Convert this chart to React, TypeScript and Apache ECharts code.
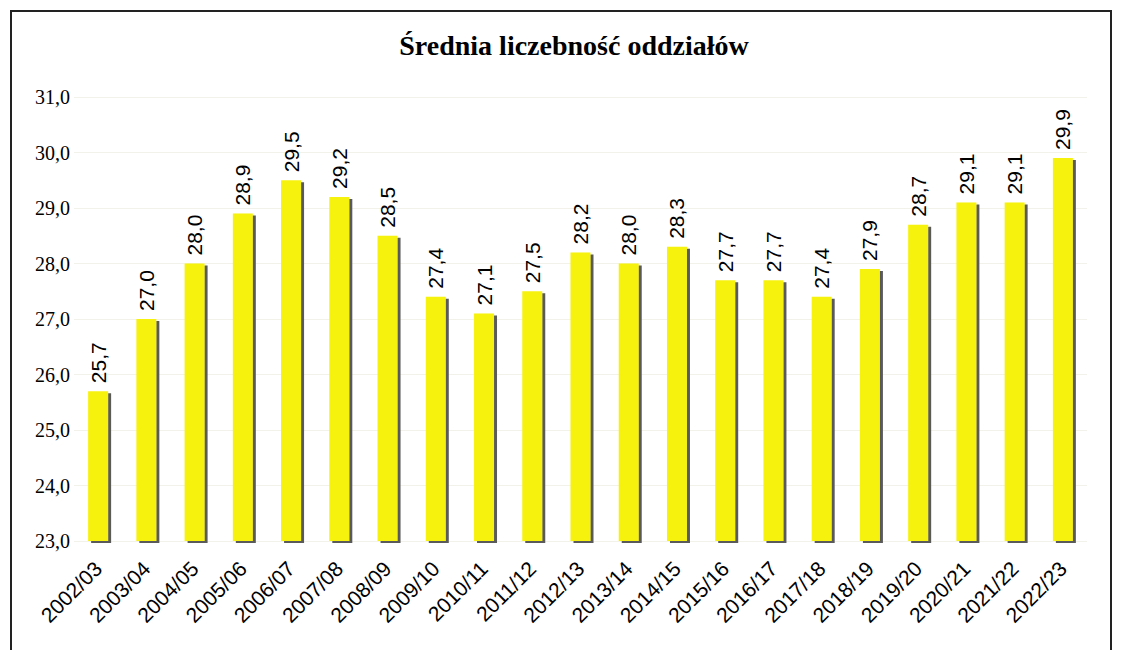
import React, { useEffect, useRef } from "react";
import * as echarts from "echarts";

const categories = [
  "2002/03", "2003/04", "2004/05", "2005/06", "2006/07", "2007/08", "2008/09",
  "2009/10", "2010/11", "2011/12", "2012/13", "2013/14", "2014/15", "2015/16",
  "2016/17", "2017/18", "2018/19", "2019/20", "2020/21", "2021/22", "2022/23",
];
const values = [
  25.7, 27.0, 28.0, 28.9, 29.5, 29.2, 28.5, 27.4, 27.1, 27.5, 28.2, 28.0, 28.3,
  27.7, 27.7, 27.4, 27.9, 28.7, 29.1, 29.1, 29.9,
];
const title = "Średnia liczebność oddziałów";
const yMin = 23;
const yMax = 31;
const yStep = 1;

const fmt = (v: number) => v.toFixed(1).replace(".", ",");

export default function App() {
  const ref = useRef<HTMLDivElement>(null);
  useEffect(() => {
    if (!ref.current) return;
    const chart = echarts.init(ref.current, null, { renderer: "svg" });
    chart.setOption({
      animation: false,
      backgroundColor: "#ffffff",
      title: {
        text: title,
        left: 569,
        textAlign: "center",
        top: 26,
        textStyle: {
          fontFamily: "Liberation Serif",
          fontWeight: "bold",
          fontSize: 28,
          color: "#000",
        },
      },
      graphic: [
        {
          type: "rect",
          shape: { x: 11, y: 11, width: 1100, height: 700 },
          style: { fill: "none", stroke: "#222", lineWidth: 2 },
          silent: true,
        },
      ],
      grid: { left: 74, right: 36, top: 97, bottom: 109 },
      xAxis: {
        type: "category",
        data: categories,
        axisLine: { show: false },
        axisTick: { show: false },
        axisLabel: {
          rotate: 45,
          interval: 0,
          margin: 24,
          fontFamily: "Liberation Sans",
          fontSize: 21,
          color: "#000",
        },
      },
      yAxis: {
        type: "value",
        min: yMin,
        max: yMax,
        interval: yStep,
        axisLine: { show: false },
        axisTick: { show: false },
        splitLine: { lineStyle: { color: "#f2f2ea", width: 1 } },
        axisLabel: {
          formatter: (v: number) => fmt(v),
          fontFamily: "Liberation Serif",
          fontSize: 20,
          color: "#000",
          margin: 4,
        },
      },
      series: [
        {
          type: "bar",
          data: values,
          barWidth: 20,
          itemStyle: {
            color: "#f7f20c",
            shadowColor: "#5a5a5a",
            shadowOffsetX: 3,
            shadowOffsetY: 2,
            shadowBlur: 0,
          },
          label: {
            show: true,
            position: "top",
            rotate: 90,
            align: "left",
            verticalAlign: "middle",
            distance: 8,
            formatter: (p: any) => fmt(p.value),
            fontFamily: "Liberation Sans",
            fontSize: 21,
            color: "#000",
          },
        },
      ],
    });
    return () => chart.dispose();
  }, []);
  return (
    <div
      ref={ref}
      style={{ position: "absolute", left: 0, top: 0, width: 1123, height: 650 }}
    />
  );
}
